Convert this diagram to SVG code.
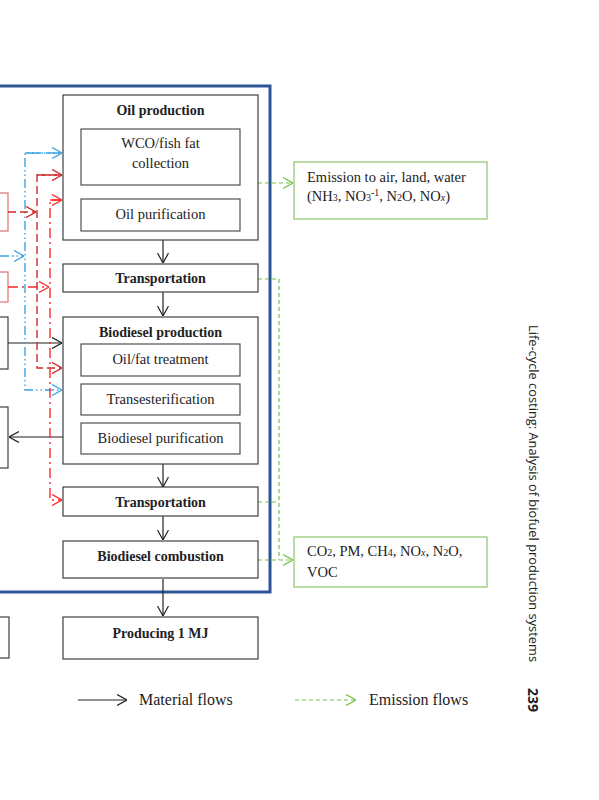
<svg xmlns="http://www.w3.org/2000/svg" width="599" height="800" viewBox="0 0 599 800">
<style>
.box{fill:#fff;stroke:#404040;stroke-width:1.2}
.sub{fill:#fff;stroke:#505050;stroke-width:1.2}
.em{fill:#fff;stroke:#8cc46a;stroke-width:1.2}
.t{font-family:"Liberation Serif",serif;font-size:14.5px;fill:#222;text-anchor:middle}
.b{font-weight:bold;font-size:14px}
.l{font-family:"Liberation Serif",serif;font-size:14.5px;fill:#222}
.blk{stroke:#222;stroke-width:1.2;fill:none;marker-end:url(#ak)}
.grn{stroke:#77c04a;stroke-width:1.2;fill:none;stroke-dasharray:4 3}
.blu{stroke:#3fa4e6;stroke-width:1.4;fill:none;stroke-dasharray:9 3 1.5 3 1.5 3}
.rd{stroke:#d02828;stroke-width:1.4;fill:none;stroke-dasharray:8 4}
.rdd{stroke:#ff2a2a;stroke-width:1.4;fill:none;stroke-dasharray:10 4 2 4}
</style>
<defs>
<marker id="ak" viewBox="0 0 10 12" refX="10" refY="6" markerWidth="10" markerHeight="12" markerUnits="userSpaceOnUse" orient="auto"><path d="M0,0.5 L10,6 L0,11.5" fill="none" stroke="#222" stroke-width="1.2"/></marker>
<marker id="ag" viewBox="0 0 10 12" refX="10" refY="6" markerWidth="10" markerHeight="12" markerUnits="userSpaceOnUse" orient="auto"><path d="M0,0.5 L10,6 L0,11.5" fill="none" stroke="#77c04a" stroke-width="1.2"/></marker>
<marker id="ab" viewBox="0 0 10 12" refX="10" refY="6" markerWidth="10" markerHeight="12" markerUnits="userSpaceOnUse" orient="auto"><path d="M0,0.5 L10,6 L0,11.5" fill="none" stroke="#3fa4e6" stroke-width="1.3"/></marker>
<marker id="ar" viewBox="0 0 10 12" refX="10" refY="6" markerWidth="10" markerHeight="12" markerUnits="userSpaceOnUse" orient="auto"><path d="M0,0.5 L10,6 L0,11.5" fill="none" stroke="#d02828" stroke-width="1.3"/></marker>
<marker id="arr" viewBox="0 0 10 12" refX="10" refY="6" markerWidth="10" markerHeight="12" markerUnits="userSpaceOnUse" orient="auto"><path d="M0,0.5 L10,6 L0,11.5" fill="none" stroke="#ff2a2a" stroke-width="1.3"/></marker>
</defs>
<rect width="599" height="800" fill="#fff"/>

<!-- system boundary -->
<rect id="boundary" x="-10" y="86" width="280" height="506" fill="none" stroke="#2f5496" stroke-width="3"/>

<!-- partial left nodes -->
<g id="left-red1"><rect x="-20" y="193" width="28" height="38" fill="#fff" stroke="#e07070" stroke-width="1.2"/></g>
<g id="left-red2"><rect x="-20" y="272" width="28" height="30" fill="#fff" stroke="#e07070" stroke-width="1.2"/></g>
<g id="left-black1"><rect x="-20" y="317" width="28" height="52" class="box"/></g>
<g id="left-black2"><rect x="-20" y="407" width="28" height="61" class="box"/></g>
<g id="left-black3"><rect x="-20" y="617" width="29" height="41" class="box"/></g>

<g id="connectors">
<!-- green emission -->
<path class="grn" d="M258,183 H293" marker-end="url(#ag)"/>
<path class="grn" d="M258,279 H279 V560"/>
<path class="grn" d="M258,502 H279"/>
<path class="grn" d="M258,560 H293" marker-end="url(#ag)"/>
<!-- black material -->
<path class="blk" d="M163,240 V263"/>
<path class="blk" d="M163,292 V316"/>
<path class="blk" d="M163,464 V487"/>
<path class="blk" d="M163,516 V540"/>
<path class="blk" d="M163,579 V616"/>
<path class="blk" d="M8,343 H62"/>
<path class="blk" d="M81,437 H9"/>
<!-- blue -->
<path class="blu" d="M0,256 H24" marker-end="url(#ab)"/>
<path class="blu" d="M62,153 H25 V390 H62" marker-end="url(#ab)"/>
<path class="blu" d="M25,153 H62" marker-end="url(#ab)"/>
<!-- red dashed -->
<path class="rd" d="M8,212 H36" marker-end="url(#ar)"/>
<path class="rd" d="M62,175 H37 V368 H62" marker-end="url(#ar)"/>
<path class="rd" d="M37,175 H62" marker-end="url(#ar)"/>
<!-- red dash-dot -->
<path class="rdd" d="M8,287 H49" marker-end="url(#arr)"/>
<path class="rdd" d="M62,200 H50 V500 H62" marker-end="url(#arr)"/>
<path class="rdd" d="M50,200 H62" marker-end="url(#arr)"/>
</g>

<g id="oil-production">
<rect x="63" y="95" width="195" height="145" class="box"/>
<text x="160.5" y="115" class="t b">Oil production</text>
</g>
<g id="wco">
<rect x="81" y="129" width="159" height="56" class="sub"/>
<text x="160.5" y="148" class="t">WCO/fish fat</text>
<text x="160.5" y="168" class="t">collection</text>
</g>
<g id="oil-purification">
<rect x="81" y="199" width="159" height="32" class="sub"/>
<text x="160.5" y="219" class="t">Oil purification</text>
</g>
<g id="transport1">
<rect x="63" y="264" width="195" height="28" class="box"/>
<text x="160.5" y="283" class="t b">Transportation</text>
</g>
<g id="biodiesel-production">
<rect x="63" y="317" width="195" height="147" class="box"/>
<text x="160.5" y="337" class="t b">Biodiesel production</text>
</g>
<g id="oil-fat-treatment">
<rect x="81" y="344" width="159" height="32" class="sub"/>
<text x="160.5" y="364" class="t">Oil/fat treatment</text>
</g>
<g id="transesterification">
<rect x="81" y="384" width="159" height="31" class="sub"/>
<text x="160.5" y="404" class="t">Transesterification</text>
</g>
<g id="biodiesel-purification">
<rect x="81" y="423" width="159" height="31" class="sub"/>
<text x="160.5" y="443" class="t">Biodiesel purification</text>
</g>
<g id="transport2">
<rect x="63" y="487" width="195" height="29" class="box"/>
<text x="160.5" y="507" class="t b">Transportation</text>
</g>
<g id="combustion">
<rect x="63" y="541" width="195" height="37" class="box"/>
<text x="160.5" y="561" class="t b">Biodiesel combustion</text>
</g>
<g id="producing">
<rect x="63" y="617" width="195" height="42" class="box"/>
<text x="160.5" y="638" class="t b">Producing 1 MJ</text>
</g>

<g id="emission1">
<rect x="294" y="162" width="193" height="57" class="em"/>
<text x="307" y="182" class="l">Emission to air, land, water</text>
<text x="307" y="201" class="l">(NH<tspan font-size="10">3</tspan>, NO<tspan font-size="10">3</tspan><tspan font-size="10" dy="-5">-1</tspan><tspan dy="5">, N</tspan><tspan font-size="10">2</tspan>O, NO<tspan font-size="10" font-style="italic">x</tspan>)</text>
</g>
<g id="emission2">
<rect x="294" y="537" width="193" height="50" class="em"/>
<text x="307" y="556" class="l">CO<tspan font-size="10">2</tspan>, PM, CH<tspan font-size="10">4</tspan>, NO<tspan font-size="10" font-style="italic">x</tspan>, N<tspan font-size="10">2</tspan>O,</text>
<text x="307" y="577" class="l">VOC</text>
</g>

<g id="legend">
<path class="blk" d="M78,700 H127"/>
<text x="139" y="705" class="l" style="font-size:16px">Material flows</text>
<path class="grn" d="M295,700 H356" marker-end="url(#ag)"/>
<text x="369" y="705" class="l" style="font-size:16px">Emission flows</text>
</g>

<text transform="translate(529,325) rotate(90)" font-family="'Open Sans','Noto Sans',sans-serif" font-size="13" fill="#222" textLength="337" lengthAdjust="spacingAndGlyphs">Life-cycle costing: Analysis of biofuel production systems</text>
<text transform="translate(528,688) rotate(90)" font-family="'Open Sans','Noto Sans',sans-serif" font-size="14" font-weight="bold" fill="#222">239</text>
</svg>
